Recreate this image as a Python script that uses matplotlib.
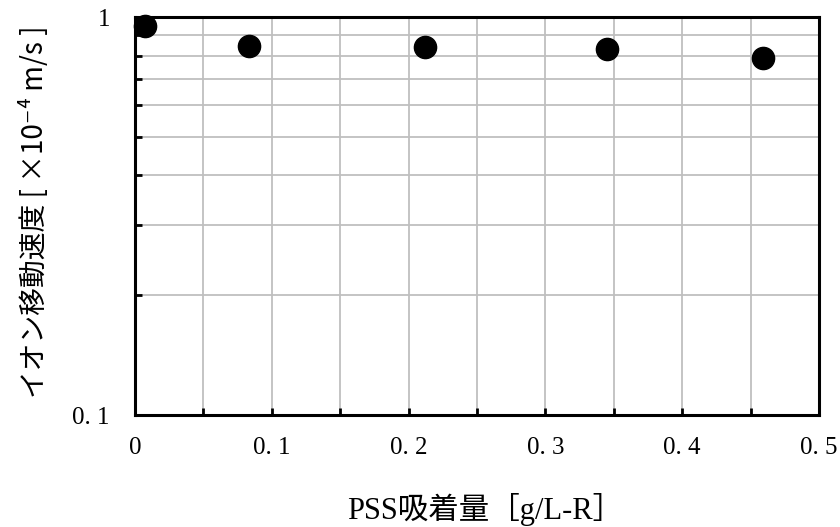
import numpy as np
import matplotlib
matplotlib.use("Agg")
import matplotlib.pyplot as plt
from matplotlib.ticker import FixedLocator, NullFormatter, MultipleLocator

# データ
pss = [0.007, 0.083, 0.212, 0.345, 0.459]
speed = [0.95, 0.846, 0.84, 0.83, 0.79]
xticks = [0, 0.1, 0.2, 0.3, 0.4, 0.5]
xticklabels = ["0", "0. 1", "0. 2", "0. 3", "0. 4", "0. 5"]
yticks = [0.1, 1]
yticklabels = ["0. 1", "1"]

fig = plt.figure(figsize=(8.4, 5.27), dpi=100)
ax = fig.add_axes([0.1607, 0.2125, 0.8143, 0.7552])

ax.plot(pss, speed, "o", color="black", markersize=16, zorder=5, clip_on=False)

ax.set_yscale("log")
ax.set_xlim(0, 0.5)
ax.set_ylim(0.1, 1)

ax.xaxis.set_major_locator(FixedLocator(xticks))
ax.xaxis.set_minor_locator(MultipleLocator(0.05))
ax.set_xticklabels(xticklabels)
ax.yaxis.set_major_locator(FixedLocator(yticks))
ax.yaxis.set_minor_locator(FixedLocator(np.arange(0.2, 1.0, 0.1)))
ax.yaxis.set_minor_formatter(NullFormatter())
ax.set_yticklabels(yticklabels)

ax.grid(True, which="both", color="#bfbfbf", linewidth=1.3)
ax.set_axisbelow(True)

for s in ax.spines.values():
    s.set_linewidth(2.2)
    s.set_color("black")

ax.tick_params(which="both", direction="in", length=5, width=2, color="black",
               top=False, right=False)
ax.tick_params(axis="x", pad=16)
ax.tick_params(axis="y", pad=18)
for lab in ax.get_xticklabels() + ax.get_yticklabels():
    lab.set_family(["Liberation Serif", "DejaVu Serif"])
    lab.set_fontsize(18)

ax.set_xlabel("PSS吸着量［g/L-R］", fontsize=22,
              family=["Liberation Serif", "Noto Sans CJK JP"])
ax.xaxis.set_label_coords(0.512, -0.196)
ax.set_ylabel("イオン移動速度 [ ×10⁻⁴ m/s ]", fontsize=20,
              family=["Noto Sans CJK JP", "DejaVu Sans"])
ax.yaxis.set_label_coords(-0.124, 0.51)

fig.savefig("out.png", dpi=100)
